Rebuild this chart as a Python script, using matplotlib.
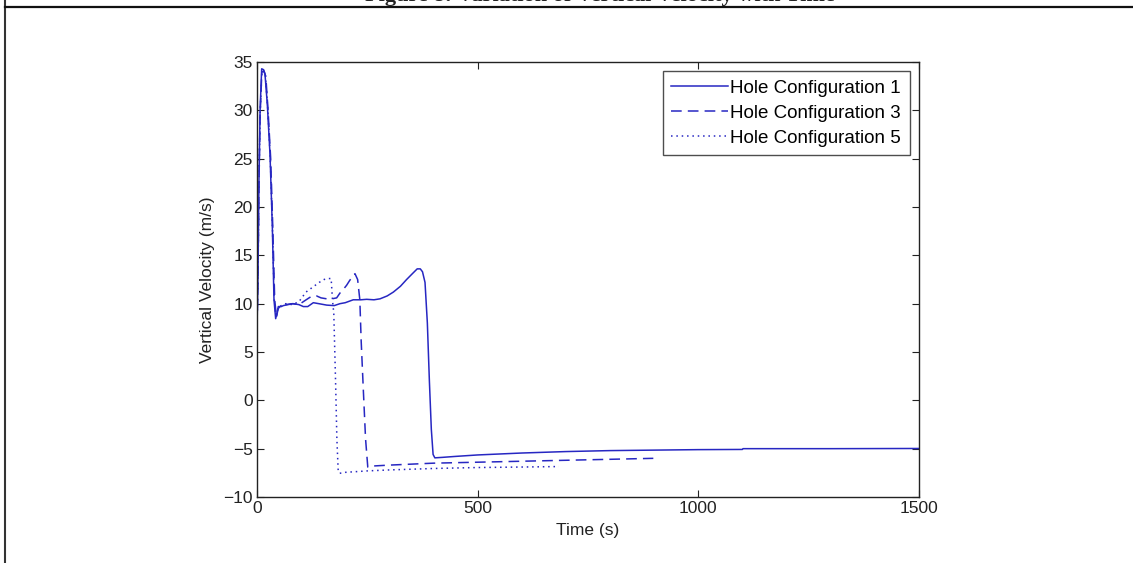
import matplotlib
matplotlib.use('Agg')
import matplotlib.pyplot as plt
from matplotlib.lines import Line2D

plt.rcParams['font.family'] = ['Liberation Sans', 'DejaVu Sans']

# Hole configuration 1 (solid)
t1 = [0, 2, 4.5, 7, 10.6, 15, 18, 23.4, 29.5, 34.7, 38.5, 42.3, 45, 48.3, 55, 59.7, 70, 82, 95, 105,
      115, 127.6, 140, 158, 175, 188, 200, 218, 235, 248.6, 265, 278.7, 295, 309, 325, 339, 352, 363,
      370, 375, 380.7, 386, 390.6, 395, 399, 403, 420, 450, 500, 600, 700, 750, 800, 900, 1000, 1100, 1101, 1300, 1500]
v1 = [7.6, 12, 22.9, 30, 34.3, 34.2, 33.8, 30.6, 25.4, 18, 10.4, 8.45, 9.0, 9.7, 9.7, 9.8, 9.9, 10.0, 9.9, 9.7,
      9.7, 10.1, 10.0, 9.85, 9.8, 10.0, 10.1, 10.4, 10.4, 10.45, 10.4, 10.5, 10.8, 11.2, 11.8, 12.5, 13.1, 13.6,
      13.6, 13.3, 12.2, 8.0, 2.0, -3.0, -5.6, -5.95, -5.9, -5.8, -5.65, -5.45, -5.3, -5.25, -5.2, -5.15, -5.1, -5.08, -5.0, -5.0, -4.98]

# Hole configuration 3 (dashed)
t3 = [0, 2, 4.5, 7, 11, 16, 20, 25, 31, 36, 40, 44, 48, 55, 65, 80, 95, 108, 118, 125, 135, 145,
      158, 170, 180.5, 188, 196, 203, 210, 218, 222, 228, 233, 236, 241, 246, 251, 260, 300, 400, 500, 600, 700, 800, 898]
v3 = [7.6, 12, 22.5, 29.5, 34.0, 34.0, 33.5, 30.0, 25.0, 17.5, 10.5, 8.6, 9.5, 9.8, 9.9, 10.0, 9.9, 10.3,
      10.6, 10.8, 10.8, 10.6, 10.5, 10.5, 10.6, 11.1, 11.5, 11.9, 12.4, 12.9, 13.1, 12.5, 10.4, 6.2, 1.0, -4.0,
      -6.9, -6.8, -6.7, -6.5, -6.4, -6.3, -6.2, -6.1, -6.0]

# Hole configuration 5 (dotted)
t5 = [0, 2, 4.5, 7, 11, 15, 19, 24, 30, 35, 39, 43, 48, 55, 65, 80, 95, 111, 126, 141, 152, 160,
      168, 171, 174, 178, 181, 184, 187, 200, 250, 300, 400, 500, 600, 684]
v5 = [7.6, 12, 22.5, 29.5, 34.0, 34.1, 33.6, 30.4, 25.2, 17.8, 10.5, 8.5, 9.6, 9.8, 10.0, 9.9, 10.2, 11.2,
      11.7, 12.2, 12.5, 12.6, 12.6, 10.4, 9.0, 2.0, -4.0, -7.3, -7.55, -7.45, -7.3, -7.2, -7.05, -6.95, -6.9, -6.85]

series_labels = ['Hole Configuration 1', 'Hole Configuration 3', 'Hole Configuration 5']
x_ticks = [0, 500, 1000, 1500]
y_ticks = list(range(-10, 40, 5))

blue = '#2727c2'

fig = plt.figure(figsize=(11.33, 5.63), dpi=100)
ax = fig.add_axes([257 / 1133, 1 - 497 / 563, 662 / 1133, 435 / 563])

ax.plot(t1, v1, color=blue, lw=1.1, ls='-', label=series_labels[0])
ax.plot(t3, v3, color=blue, lw=1.1, ls=(0, (7, 4)), label=series_labels[1])
ax.plot(t5, v5, color=blue, lw=1.1, ls=(0, (1, 2.5)), label=series_labels[2])

ax.set_xlim(0, 1500)
ax.set_ylim(-10, 35)
ax.set_xticks(x_ticks)
ax.set_yticks(y_ticks)
ax.tick_params(direction='in', top=True, right=True, length=5, labelsize=12.5, colors='#222222', pad=3)
for s in ax.spines.values():
    s.set_linewidth(1.0)
    s.set_color('#222222')

ax.set_xlabel('Time (s)', fontsize=12.5, color='#222222', labelpad=5)
ax.set_ylabel('Vertical Velocity (m/s)', fontsize=12.5, color='#222222', labelpad=6)

leg = ax.legend(loc='upper right', fontsize=13.5, frameon=True, fancybox=False,
                handlelength=3.0, handletextpad=0.15, borderpad=0.45, labelspacing=0.42,
                borderaxespad=0.5, edgecolor='#222222')
leg.get_frame().set_linewidth(1.0)

# page frame and clipped caption above the chart
fig.add_artist(Line2D([5 / 1133, 5 / 1133], [0, 1], color='#333333', lw=1.5))
fig.add_artist(Line2D([5 / 1133, 1], [1 - 7 / 563, 1 - 7 / 563], color='#111111', lw=1.6))
fig.text(600 / 1133, 1 - 1.5 / 563, 'Figure 8: Variation of Vertical Velocity with Time',
         family=['Liberation Serif', 'DejaVu Serif'], weight='bold', fontsize=16,
         ha='center', va='baseline', color='#222222')

fig.savefig('out.png', dpi=100)
